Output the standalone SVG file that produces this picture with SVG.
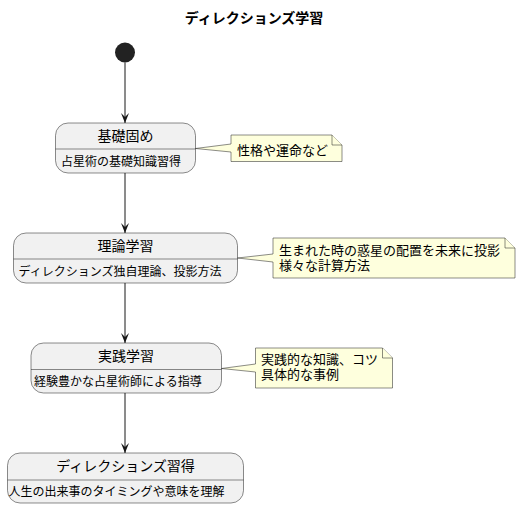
<svg xmlns="http://www.w3.org/2000/svg" width="520" height="509" viewBox="0 0 520 509">
<style>
text{font-family:"Noto Sans CJK JP","Liberation Sans",sans-serif;fill:#000}
.title{font-size:14px;font-weight:bold}
.st{font-size:14px}
.body{font-size:12px}
.nt{font-size:13px}
.box{fill:#F1F1F1;stroke:#181818;stroke-width:0.5}
.div{stroke:#181818;stroke-width:0.5}
.note{fill:#FEFFDD;stroke:#181818;stroke-width:0.5}
.edge{stroke:#181818;stroke-width:1;fill:none}
</style>
<defs>
<marker id="ah" viewBox="0 0 10 10" refX="10" refY="5" markerWidth="10" markerHeight="10" markerUnits="userSpaceOnUse" orient="auto">
<polygon points="0,1 10,5 0,9 4,5" fill="#181818"/>
</marker>
</defs>
<text class="title" x="254" y="23" text-anchor="middle">ディレクションズ学習</text>
<g id="start"><circle cx="125" cy="52.5" r="10" fill="#222222"/></g>
<g id="connectors">
<line class="edge" x1="125" y1="62.5" x2="125" y2="123" marker-end="url(#ah)"/>
<line class="edge" x1="125" y1="173" x2="125" y2="233" marker-end="url(#ah)"/>
<line class="edge" x1="125" y1="283" x2="125" y2="343" marker-end="url(#ah)"/>
<line class="edge" x1="125" y1="393" x2="125" y2="453" marker-end="url(#ah)"/>
</g>
<g id="s1">
<rect class="box" x="55.5" y="123" width="140" height="50" rx="12.5"/>
<line class="div" x1="55.5" y1="149" x2="195.5" y2="149"/>
<text class="st" x="125.5" y="141" text-anchor="middle">基礎固め</text>
<text class="body" x="61" y="166">占星術の基礎知識習得</text>
</g>
<g id="s2">
<rect class="box" x="13.5" y="233" width="224" height="50" rx="12.5"/>
<line class="div" x1="13.5" y1="259" x2="237.5" y2="259"/>
<text class="st" x="125.5" y="251" text-anchor="middle">理論学習</text>
<text class="body" x="18.5" y="276">ディレクションズ独自理論、投影方法</text>
</g>
<g id="s3">
<rect class="box" x="31" y="343" width="190.5" height="50" rx="12.5"/>
<line class="div" x1="31" y1="369.5" x2="221.5" y2="369.5"/>
<text class="st" x="126" y="361" text-anchor="middle">実践学習</text>
<text class="body" x="34" y="386">経験豊かな占星術師による指導</text>
</g>
<g id="s4">
<rect class="box" x="7.5" y="453" width="236" height="50" rx="12.5"/>
<line class="div" x1="7.5" y1="480" x2="243.5" y2="480"/>
<text class="st" x="125.5" y="471" text-anchor="middle">ディレクションズ習得</text>
<text class="body" x="8.5" y="496">人生の出来事のタイミングや意味を理解</text>
</g>
<g id="n1">
<path class="note" d="M231,135 H332 L342,145 V161.5 H231 V152 L195.5,148.5 L231,144 Z"/>
<path class="note" d="M332,135 V145 H342"/>
<text class="nt" x="237" y="155">性格や運命など</text>
</g>
<g id="n2">
<path class="note" d="M273,238 H505 L515,248 V278 H273 V262 L237.5,258 L273,254 Z"/>
<path class="note" d="M505,238 V248 H515"/>
<text class="nt" x="279" y="255">生まれた時の惑星の配置を未来に投影<tspan x="279" y="270">様々な計算方法</tspan></text>
</g>
<g id="n3">
<path class="note" d="M255.5,348 H382.5 L392.5,358 V388 H255.5 V372 L221.5,368.5 L255.5,364 Z"/>
<path class="note" d="M382.5,348 V358 H392.5"/>
<text class="nt" x="261" y="364">実践的な知識、コツ<tspan x="261" y="379">具体的な事例</tspan></text>
</g>
</svg>
